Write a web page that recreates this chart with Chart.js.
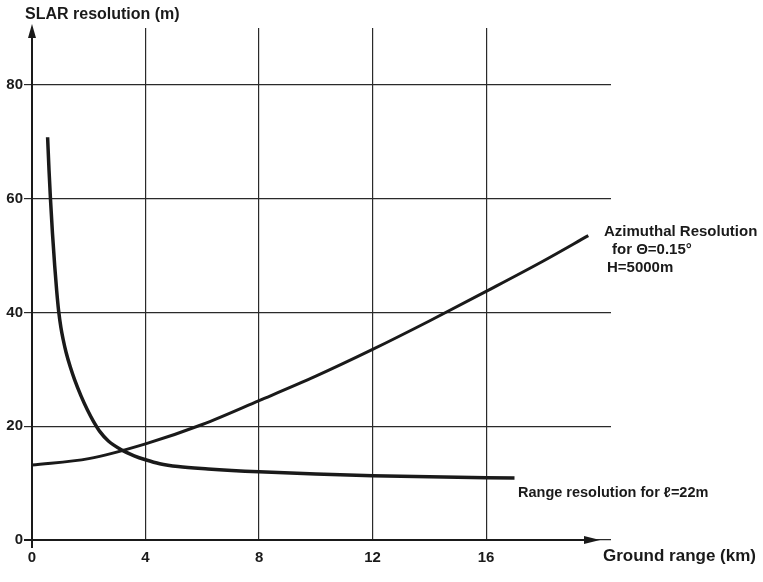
<!DOCTYPE html>
<html>
<head>
<meta charset="utf-8">
<script src="https://cdn.jsdelivr.net/npm/chart.js@4.4.0/dist/chart.umd.min.js"></script>
<style>
html, body { margin: 0; padding: 0; background: #fff; }
#wrap { width: 763px; height: 582px; position: relative; }
</style>
</head>
<body>
<div id="wrap"><canvas id="chart"></canvas></div>
<script>
// Values: ground range (km) vs resolution (m)
const azimuthX = [0, 2, 4, 6, 8, 10, 12, 14, 16, 18, 19.6];
const azimuthY = [13.2, 14.3, 16.9, 20.3, 24.5, 28.8, 33.5, 38.5, 43.7, 49, 53.5];
const rangeX = [0.55, 0.6, 0.65, 0.72, 0.8, 0.87, 0.94, 1.02, 1.1, 1.2, 1.35, 1.5, 1.73, 1.95, 2.15, 2.4, 2.69, 3.17, 3.6, 4.0, 4.5, 5.15, 6.2, 8, 10, 12, 14, 17];
const rangeY = [70.8, 65, 60, 54, 48.2, 43.8, 40.2, 37.3, 35.2, 33, 30.4, 28.2, 25.3, 22.9, 21, 19, 17.4, 15.8, 14.8, 14.1, 13.4, 12.9, 12.5, 12.0, 11.6, 11.3, 11.1, 10.9];
const xTicks = [0, 4, 8, 12, 16];
const yTicks = [0, 20, 40, 60, 80];

const INK = '#1a1a1a';
const FAMILY = '"Liberation Sans", Arial, sans-serif';

function toPoints(xs, ys) {
    return xs.map((x, i) => ({ x: x, y: ys[i] }));
}

// Axes with arrowheads + the hand-placed captions
const annotate = {
    id: 'annotate',
    afterDraw(chart) {
        const ctx = chart.ctx;
        const xs = chart.scales.x;
        const ys = chart.scales.y;
        const x0 = xs.getPixelForValue(0);
        const y0 = ys.getPixelForValue(0);

        ctx.save();
        ctx.strokeStyle = INK;
        ctx.fillStyle = INK;
        ctx.lineWidth = 2;

        // y axis
        ctx.beginPath();
        ctx.moveTo(x0, y0 + 8);
        ctx.lineTo(x0, 34);
        ctx.stroke();
        ctx.beginPath();
        ctx.moveTo(x0, 24);
        ctx.lineTo(x0 - 4, 38);
        ctx.lineTo(x0 + 4, 38);
        ctx.closePath();
        ctx.fill();

        // x axis
        ctx.beginPath();
        ctx.moveTo(x0 - 8, y0);
        ctx.lineTo(590, y0);
        ctx.stroke();
        ctx.beginPath();
        ctx.moveTo(600, y0);
        ctx.lineTo(584, y0 - 4);
        ctx.lineTo(584, y0 + 4);
        ctx.closePath();
        ctx.fill();

        ctx.textBaseline = 'middle';
        ctx.textAlign = 'left';
        ctx.font = 'bold 16px ' + FAMILY;
        ctx.fillText('SLAR resolution (m)', 25, 15);
        ctx.font = 'bold 17px ' + FAMILY;
        ctx.fillText('Ground range (km)', 603, y0 + 16);
        ctx.font = 'bold 14.5px ' + FAMILY;
        ctx.fillText('Range resolution for \u2113=22m', 518, 493);
        ctx.font = 'bold 15px ' + FAMILY;
        ctx.fillText('Azimuthal Resolution', 604, 232);
        ctx.fillText('for \u0398=0.15\u00b0', 612, 250);
        ctx.fillText('H=5000m', 607, 268);
        ctx.restore();
    }
};

new Chart(document.getElementById('chart'), {
    type: 'scatter',
    data: {
        datasets: [
            {
                label: 'Azimuthal resolution',
                data: toPoints(azimuthX, azimuthY),
                showLine: true,
                borderColor: INK,
                borderWidth: 3,
                pointRadius: 0,
                cubicInterpolationMode: 'monotone'
            },
            {
                label: 'Range resolution',
                data: toPoints(rangeX, rangeY),
                showLine: true,
                borderColor: INK,
                borderWidth: 3.5,
                pointRadius: 0,
                cubicInterpolationMode: 'monotone'
            }
        ]
    },
    options: {
        responsive: true,
        maintainAspectRatio: false,
        animation: false,
        layout: { padding: { top: 28, right: 152, left: 0, bottom: 0 } },
        plugins: {
            legend: { display: false },
            tooltip: { enabled: false }
        },
        scales: {
            x: {
                type: 'linear',
                min: 0,
                max: 20.4,
                afterBuildTicks: (scale) => { scale.ticks = xTicks.map(v => ({ value: v })); },
                afterFit: (scale) => { scale.height = 42; },
                border: { display: false },
                grid: { color: '#2a2a2a', lineWidth: 1.2, drawTicks: false },
                ticks: {
                    color: INK,
                    padding: 9,
                    font: { family: FAMILY, size: 15, weight: 'bold' }
                }
            },
            y: {
                type: 'linear',
                min: 0,
                max: 90,
                afterBuildTicks: (scale) => { scale.ticks = yTicks.map(v => ({ value: v })); },
                afterFit: (scale) => { scale.width = 32; },
                border: { display: false },
                grid: { color: '#2a2a2a', lineWidth: 1.2, tickLength: 8 },
                ticks: {
                    color: INK,
                    padding: 1,
                    font: { family: FAMILY, size: 15, weight: 'bold' }
                }
            }
        }
    },
    plugins: [annotate]
});
</script>
</body>
</html>
